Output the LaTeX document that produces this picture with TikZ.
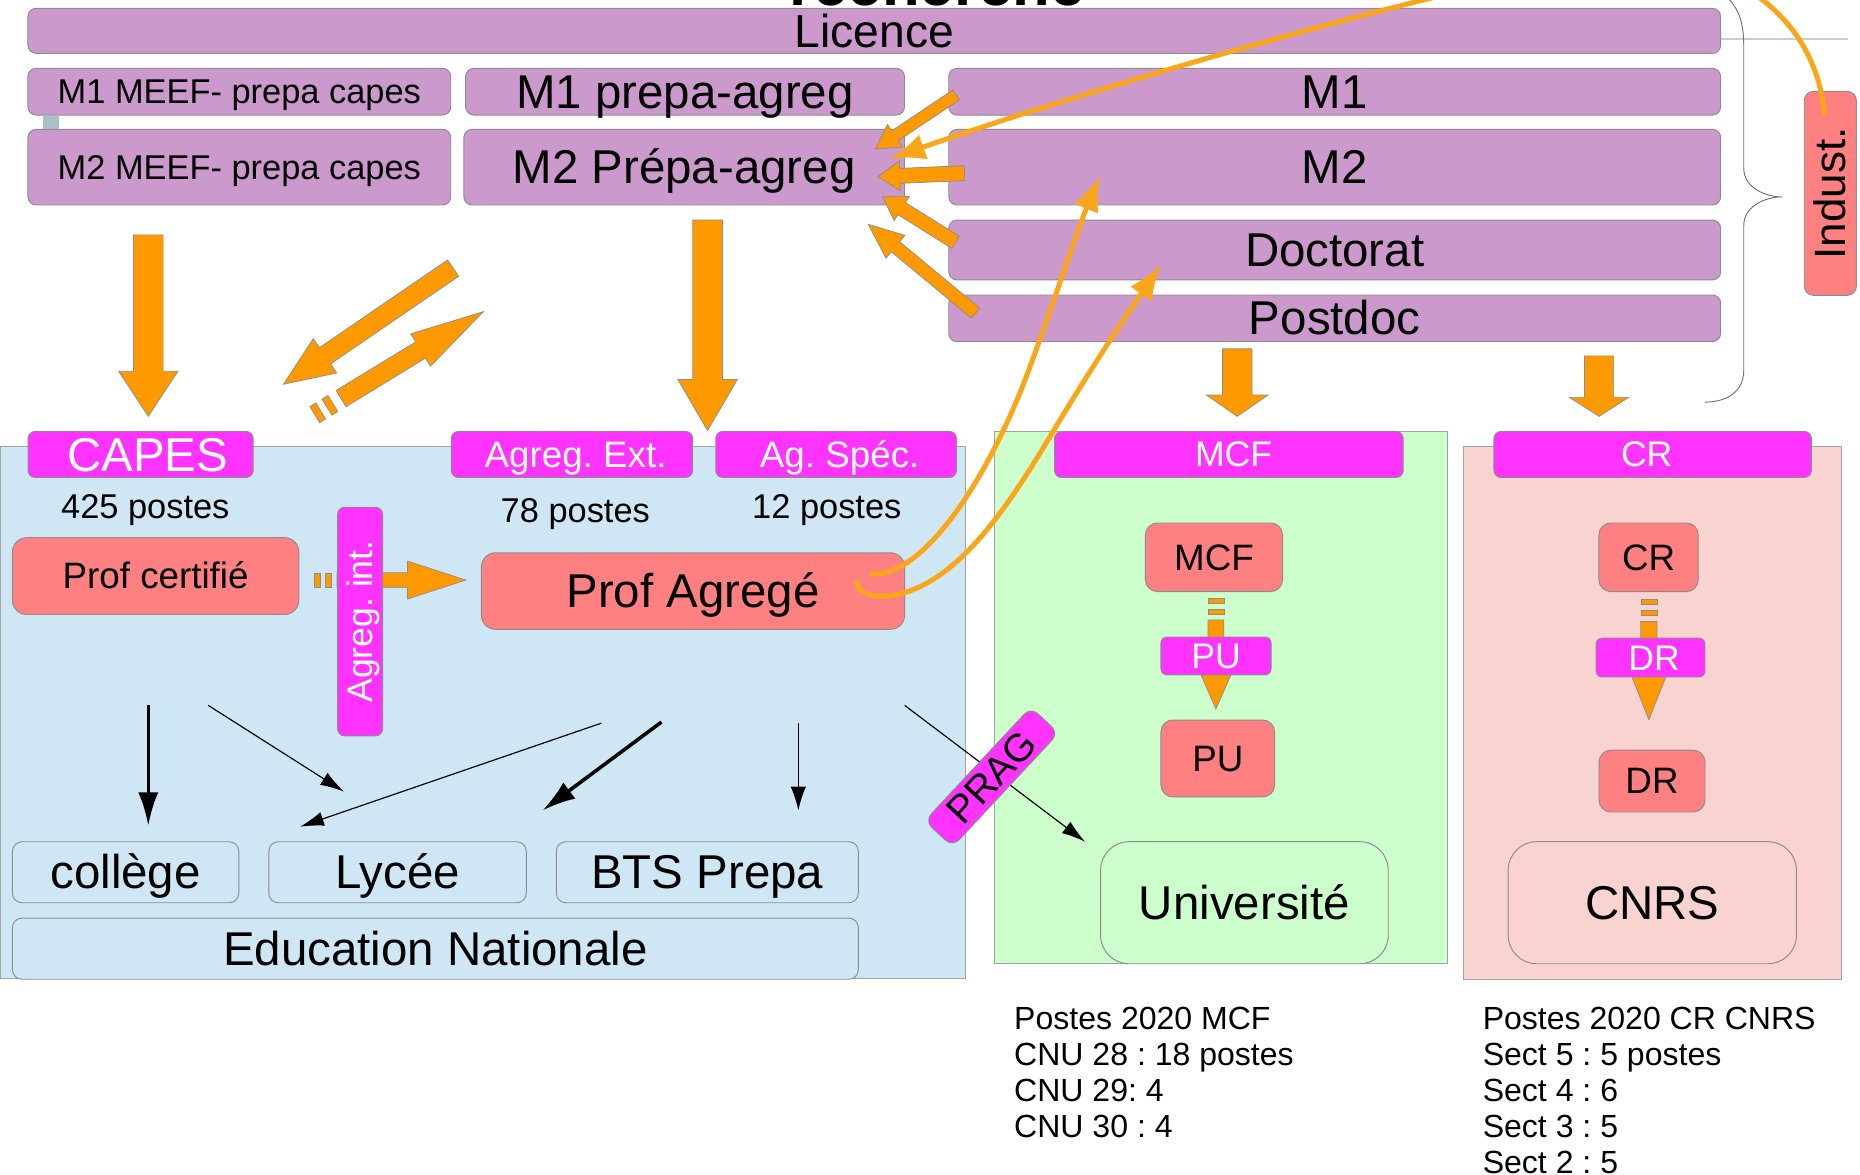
\documentclass[tikz,border=0pt]{standalone}
\usepackage{fontspec}
\setmainfont{Liberation Sans}
\usetikzlibrary{arrows.meta}
\frenchspacing
\definecolor{purp}{HTML}{CC99CC}
\definecolor{mag}{HTML}{FF33FF}
\definecolor{salm}{HTML}{FF8080}
\definecolor{orng}{HTML}{FF9900}
\definecolor{curv}{HTML}{FAA61A}
\definecolor{lblue}{HTML}{CFE7F5}
\definecolor{lgreen}{HTML}{CCFFCC}
\definecolor{lpink}{HTML}{F9D3D0}
\definecolor{bgrey}{HTML}{8C8C8C}
\definecolor{sqblue}{HTML}{A9BFCB}
\newbox\ntb
\newcommand\ntbgn{\setbox\ntb=\hbox\bgroup}
\newcommand\ntend{\egroup\raisebox{-0.35em}[0pt][0pt]{\box\ntb}}
% block arrow: x y angle length shaft-half head-half head-length
\newcommand\barrow[7]{\begin{scope}[shift={(#1,#2)},rotate=#3]
 \draw[blockarr] (0,#5)--({#4-#7},#5)--({#4-#7},#6)--(#4,0)--({#4-#7},-#6)--({#4-#7},-#5)--(0,-#5)--cycle;
 \end{scope}}
\tikzset{
 nb/.style={inner sep=0pt, outer sep=0pt, execute at begin node=\ntbgn, execute at end node=\ntend},
 f/.style={font=\frenchspacing\fontsize{#1}{#1}\selectfont},
 pbox/.style={nb, draw=bgrey, line width=0.8pt, fill=purp, rounded corners=7pt},
 mbox/.style={nb, draw=bgrey, line width=0.8pt, fill=mag, text=white, rounded corners=6pt},
 sbox/.style={nb, draw=bgrey, line width=0.8pt, fill=salm, rounded corners=10pt},
 obox/.style={nb, draw=bgrey, line width=0.8pt, rounded corners=8pt},
 region/.style={nb, draw=bgrey!80, line width=0.8pt},
 blockarr/.style={fill=orng, draw=bgrey, line width=0.6pt},
 dashpiece/.style={fill=orng, draw=bgrey, line width=0.5pt},
 curvearr/.style={draw=curv, line width=4.2pt, line cap=round, -{Latex[length=30pt,width=22pt]}},
 thinarr/.style={line width=1pt, -{Latex[length=20pt,width=12pt]}},
 medarr/.style={line width=1.3pt, -{Latex[length=20pt,width=13pt]}},
 thickarr/.style={line width=3pt, -{Latex[length=28pt,width=17pt]}},
}
\begin{document}
\begin{tikzpicture}[x=1pt,y=-1pt]
\useasboundingbox (0,0) rectangle (1568,989.7);
% regions
\node[region, fill=lblue, minimum width=814.2, minimum height=447.9] (edureg) at (407.1,600.65) {};
\node[region, fill=lgreen, minimum width=382.3, minimum height=448.8] (univreg) at (1029.45,588.1) {};
\node[region, fill=lpink, minimum width=318.3, minimum height=448.8] (cnrsreg) at (1392.85,601.1) {};
% cut title
\node[nb, font=\fontsize{52}{52}\selectfont\bfseries] (rech) at (790,-13.2) {recherche};
% top bars
\node[pbox, f=39, minimum width=1427, minimum height=38] (lic) at (737,26) {Licence};
\node[pbox, f=29, minimum width=356.5, minimum height=39.4] (m1meef) at (201.75,77.3) {M1 MEEF- prepa capes};
\node[pbox, f=29, minimum width=356.5, minimum height=63.8] (m2meef) at (201.75,140.9) {M2 MEEF- prepa capes};
\node[pbox, f=40, minimum width=370, minimum height=39.4] (m1pa) at (577.5,77.3) {M1 prepa-agreg};
\node[pbox, f=40, minimum width=371.5, minimum height=63.8] (m2pa) at (576.75,140.9) {M2 Prépa-agreg};
\node[pbox, f=40, minimum width=650.7, minimum height=39.4] (m1) at (1125.15,77.3) {M1};
\node[pbox, f=40, minimum width=650.7, minimum height=63.8] (m2) at (1125.15,140.9) {M2};
\node[pbox, f=40, minimum width=650.7, minimum height=50.5] (doc) at (1125.15,210.75) {Doctorat};
\node[pbox, f=40, minimum width=650.7, minimum height=39.3] (pdoc) at (1125.15,268.35) {Postdoc};
\fill[sqblue] (36,97.5) rectangle (50,109);
% brace and grey line
\coordinate (gl1) at (1451,33); \coordinate (gl2) at (1558,33);
\draw[black!20, line width=2pt] (gl1) -- (gl2);
\draw[black!55, line width=0.8pt] (1452,-6) .. controls (1466,6) and (1470,18) .. (1470,40) -- (1470,142) .. controls (1470,158) and (1488,166) .. (1502,166) .. controls (1488,166) and (1470,174) .. (1470,190) -- (1470,312) .. controls (1470,330) and (1456,339) .. (1437,339);
% Indust
\node[sbox, rounded corners=8pt, f=37, text=black, rotate=90, minimum width=172, minimum height=44] (indust) at (1543,163) {Indust.};
% headers
\node[mbox, f=40, minimum width=189.7, minimum height=38.8] (capes) at (118.55,383.1) {\hspace*{12pt}CAPES};
\node[mbox, f=31, minimum width=203.4, minimum height=38.8] (agext) at (482.2,383.1) {\hspace*{6pt}Agreg. Ext.};
\node[mbox, f=31, minimum width=202.9, minimum height=38.8] (agspec) at (704.85,383.1) {\hspace*{6pt}Ag. Spéc.};
\node[mbox, f=30, minimum width=293.9, minimum height=38.8] (mcfh) at (1035.95,383.1) {\hspace*{8pt}MCF};
\node[mbox, f=30, minimum width=267.6, minimum height=38.8] (crh) at (1393.2,383.1) {CR\hspace*{10pt}};
% numbers
\node[nb, f=29] (p425) at (122.5,427) {425 postes};
\node[nb, f=29] (p78) at (485,430) {78 postes};
\node[nb, f=29] (p12) at (697,427) {12 postes};
% black arrows
\coordinate (ka1) at (125,594.6); \coordinate (ka2) at (125,696);
\coordinate (ta1) at (175.5,594.6); \coordinate (ta2) at (289.9,667.3);
\coordinate (tb1) at (507,609.6); \coordinate (tb2) at (253,696.9);
\coordinate (kb1) at (557.6,608.7); \coordinate (kb2) at (457.4,683.2);
\coordinate (mc1) at (673,609.6); \coordinate (mc2) at (673,683.2);
\coordinate (td1) at (762.6,594.6); \coordinate (td2) at (914.8,709.6);
\draw[thickarr] (ka1) -- (ka2);
\draw[thinarr] (ta1) -- (ta2);
\draw[thinarr] (tb1) -- (tb2);
\draw[thickarr] (kb1) -- (kb2);
\draw[medarr] (mc1) -- (mc2);
\draw[thinarr] (td1) -- (td2);
% education boxes
\node[sbox, f=31, minimum width=241.4, minimum height=64.7, rounded corners=12pt] (pcert) at (131.2,485.65) {Prof certifié};
\node[sbox, f=40, minimum width=356.8, minimum height=64.5, rounded corners=12pt] (pagr) at (584.2,498.25) {Prof Agregé};
\node[obox, fill=lblue, f=40, minimum width=190.8, minimum height=51.4] (college) at (105.9,735.3) {collège};
\node[obox, fill=lblue, f=40, minimum width=217.1, minimum height=51.4] (lycee) at (335.15,735.3) {Lycée};
\node[obox, fill=lblue, f=40, minimum width=254.6, minimum height=51.4] (bts) at (596.3,735.3) {BTS Prepa};
\node[obox, fill=lblue, f=40, minimum width=713.1, minimum height=51.5] (edunat) at (367.05,799.75) {Education Nationale};
% university and CNRS columns
\node[sbox, f=31, minimum width=115.6, minimum height=57.8] (mcfin) at (1023.4,469.8) {MCF};
\node[sbox, f=31, minimum width=95.8, minimum height=64.8] (pusal) at (1026.6,639.4) {PU};
\node[obox, fill=lgreen, f=40, rounded corners=24pt, minimum width=242.5, minimum height=102.9] (univ) at (1049.05,761) {Université};
\node[sbox, f=31, minimum width=83.7, minimum height=57.8] (crin) at (1389.75,469.8) {CR};
\node[sbox, f=31, minimum width=89.3, minimum height=52.1] (drsal) at (1392.65,658.45) {DR};
\node[obox, fill=lpink, f=40, rounded corners=24pt, minimum width=243, minimum height=102.9] (cnrs) at (1392.9,761) {CNRS};
\filldraw[dashpiece] (1018.3,504.7) rectangle (1031.9,509);
\filldraw[dashpiece] (1018.3,513.5) rectangle (1031.9,517.8);
\barrow{1025}{522.6}{-90}{75.1}{6.7}{12.6}{28.7}
\filldraw[dashpiece] (1383.2,505.3) rectangle (1396.8,509.5);
\filldraw[dashpiece] (1383.2,514.4) rectangle (1396.8,519);
\barrow{1390}{524}{-90}{82.7}{6.8}{14.5}{36.7}
\node[mbox, f=30, minimum width=92.8, minimum height=31.9, rounded corners=5pt] (pumag) at (1025.1,552.95) {PU};
\node[mbox, f=30, minimum width=91.8, minimum height=32.7, rounded corners=5pt] (drmag) at (1391.4,554.35) {\hspace*{6pt}DR};
% PRAG
\node[mbox, text=black, f=33, rotate=47, minimum width=131, minimum height=32, rounded corners=8pt] (prag) at (836,655) {PRAG};
% Agreg int
\filldraw[dashpiece] (265,482.9) rectangle (270,495.1);
\filldraw[dashpiece] (274,482.9) rectangle (279.5,495.1);
\barrow{284}{489}{0}{108.6}{6.1}{16}{49}
\node[mbox, f=30, rotate=90, minimum width=192.8, minimum height=37.9, rounded corners=6pt] (agint) at (303.55,524) {Agreg. int.};
% block arrows top
\barrow{125}{198}{-90}{153}{12.5}{25}{38}
\barrow{596.5}{185.5}{-90}{177.5}{12.5}{25}{43}
\barrow{382}{226}{214.4}{173.4}{8.3}{17.5}{42.5}
\begin{scope}[shift={(287.5,336)},rotate=31.4]
 \filldraw[dashpiece] (-14,-8) rectangle (-8,8);
 \filldraw[dashpiece] (-26,-8) rectangle (-20,8);
\end{scope}
\barrow{287.5}{336}{31.4}{140.6}{8}{16}{62}
\barrow{806}{80}{213.8}{81.9}{5}{11.5}{20}
\barrow{813}{146}{182.35}{73}{6.3}{12.6}{18.5}
\barrow{805.6}{204.3}{148}{72.6}{6}{12}{19}
\barrow{822.5}{264}{140.4}{117.5}{5.5}{12.5}{29.7}
\barrow{1043}{294}{-90}{57}{12.4}{26}{18}
\barrow{1348}{300}{-90}{51}{12.3}{25}{16}
% curves
\coordinate (c1s) at (735,484); \coordinate (c1e) at (927,148);
\draw[curvearr] (c1s) .. controls (780,486) and (835,400) .. (868,310) .. controls (890,250) and (908,195) .. (c1e);
\coordinate (c2s) at (722,491); \coordinate (c2e) at (979,223);
\draw[curvearr] (c2s) .. controls (724,503) and (745,507) .. (770,497) .. controls (820,477) and (860,410) .. (890,360) .. controls (920,310) and (950,265) .. (c2e);
\coordinate (c3s) at (1538,96); \coordinate (c3e) at (750,134);
\draw[curvearr] (c3s) .. controls (1528,-10) and (1420,-45) .. (1340,-40) .. controls (1290,-37) and (1250,-12) .. (1200,0) .. controls (1070,32) and (880,88) .. (c3e);
% bottom notes
\node[nb, f=27, anchor=west] (n1) at (855,858.5) {Postes 2020 MCF};
\node[nb, f=27, anchor=west] (n2) at (855,888.75) {CNU 28 : 18 postes};
\node[nb, f=27, anchor=west] (n3) at (855,919) {CNU 29: 4};
\node[nb, f=27, anchor=west] (n4) at (855,949.25) {CNU 30 : 4};
\node[nb, f=27, anchor=west] (r1) at (1250,858.5) {Postes 2020 CR CNRS};
\node[nb, f=27, anchor=west] (r2) at (1250,888.75) {Sect 5 : 5 postes};
\node[nb, f=27, anchor=west] (r3) at (1250,919) {Sect 4 : 6};
\node[nb, f=27, anchor=west] (r4) at (1250,949.25) {Sect 3 : 5};
\node[nb, f=27, anchor=west] (r5) at (1250,979.5) {Sect 2 : 5};
\end{tikzpicture}
\end{document}
